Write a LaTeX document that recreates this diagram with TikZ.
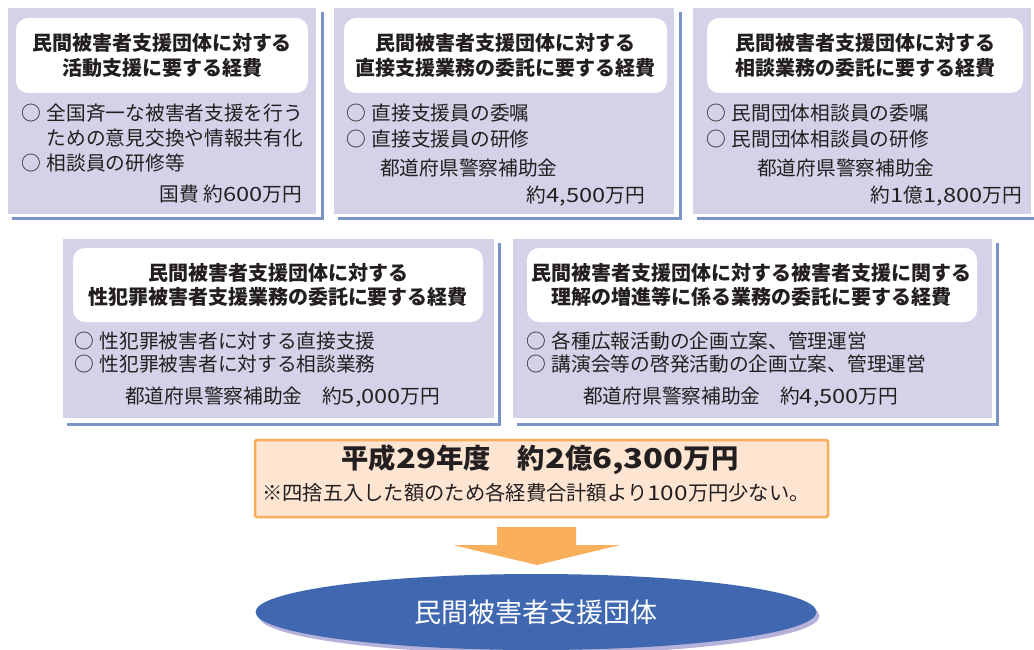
\documentclass[tikz,border=0pt]{standalone}
\usepackage{fontspec}
\setmainfont{Noto Sans CJK JP}
\usetikzlibrary{shapes.geometric}
\definecolor{boxfill}{HTML}{D4D2E8}
\definecolor{shadowblue}{HTML}{7C93CA}
\definecolor{txt}{HTML}{231F20}
\definecolor{orfill}{HTML}{FDE5D2}
\definecolor{orline}{HTML}{F8AE5C}
\definecolor{arrowc}{HTML}{F9AF5B}
\definecolor{ellfill}{HTML}{3F68B1}
\definecolor{ellshadow}{HTML}{B7B2D9}
\newcommand\mk{○\hspace{0.3em}}
\newcommand\dg[1]{{\addfontfeature{FakeStretch=1.2}#1}}
\begin{document}
\begin{tikzpicture}[x=1pt,y=-1pt,
  panel/.style={fill=boxfill, draw=none},
  shadowline/.style={draw=shadowblue, line width=3pt},
  titlebox/.style={fill=white, draw=none, rounded corners=12pt},
  ttl/.style={font=\bfseries\fontsize{20}{24.5}\selectfont, text=txt, align=center, inner sep=0pt},
  itm/.style={font=\fontsize{19.7}{26}\selectfont, text=txt, inner sep=0pt, text height=0.88em, text depth=0.12em},
  total/.style={font=\bfseries\fontsize{27.3}{32}\selectfont, text=txt, inner sep=0pt, text height=0.88em, text depth=0.12em},
  note/.style={font=\fontsize{20.3}{22}\selectfont, text=txt, inner sep=0pt, text height=0.88em, text depth=0.12em},
]
\useasboundingbox (0,0) rectangle (1034,650);
\fill[white] (0,0) rectangle (1034,650);

% ---------- shadows of panels ----------
\draw[shadowline] (12,218) -- (322,218) -- (322,12);
\draw[shadowline] (338,218) -- (680,218) -- (680,12);
\draw[shadowline] (697,218) -- (1037,218) -- (1037,12);
\draw[shadowline] (67,424) -- (499,424) -- (499,243);
\draw[shadowline] (517,424) -- (997,424) -- (997,243);

% ---------- panels ----------
\path[panel] (8,8) rectangle (316,214);
\path[panel] (334,8) rectangle (674,214);
\path[panel] (693,8) rectangle (1031,214);
\path[panel] (63,239) rectangle (494,418);
\path[panel] (513,239) rectangle (992,418);

% ---------- title boxes ----------
\path[titlebox] (16,18) rectangle (308,93);
\path[titlebox] (344,18) rectangle (667,93);
\path[titlebox] (707,18) rectangle (1023,93);
\path[titlebox] (73,248) rectangle (483,322);
\path[titlebox] (527,248) rectangle (977,322);

% ---------- panel 1 ----------
\node[ttl] (t1) at (162,55.5) {民間被害者支援団体に対する\\活動支援に要する経費};
\node[itm,anchor=west] (a1) at (21,117) {\mk 全国斉一な被害者支援を行う};
\node[itm,anchor=west] (a2) at (21,142) {\phantom{\mk}ための意見交換や情報共有化};
\node[itm,anchor=west] (a3) at (21,167) {\mk 相談員の研修等};
\node[itm,anchor=east] (a4) at (302,198) {国費 約\dg{600}万円};

% ---------- panel 2 ----------
\node[ttl] (t2) at (505.5,55.5) {民間被害者支援団体に対する\\直接支援業務の委託に要する経費};
\node[itm,anchor=west] (b1) at (346,117) {\mk 直接支援員の委嘱};
\node[itm,anchor=west] (b2) at (346,143) {\mk 直接支援員の研修};
\node[itm,anchor=west] (b3) at (380,172) {都道府県警察補助金};
\node[itm,anchor=east] (b4) at (645,199) {約\dg{4,500}万円};

% ---------- panel 3 ----------
\node[ttl] (t3) at (865,55.5) {民間被害者支援団体に対する\\相談業務の委託に要する経費};
\node[itm,anchor=west] (c1) at (706,117) {\mk 民間団体相談員の委嘱};
\node[itm,anchor=west] (c2) at (706,143) {\mk 民間団体相談員の研修};
\node[itm,anchor=west] (c3) at (757,172) {都道府県警察補助金};
\node[itm,anchor=east] (c4) at (1022,199) {約\dg{1}億\dg{1,800}万円};

% ---------- panel 4 ----------
\node[ttl] (t4) at (278,285) {民間被害者支援団体に対する\\性犯罪被害者支援業務の委託に要する経費};
\node[itm,anchor=west] (d1) at (74,345) {\mk 性犯罪被害者に対する直接支援};
\node[itm,anchor=west] (d2) at (74,368) {\mk 性犯罪被害者に対する相談業務};
\node[itm,anchor=west] (d3) at (125,400) {都道府県警察補助金　約\dg{5,000}万円};

% ---------- panel 5 ----------
\node[ttl] (t5) at (751,285) {民間被害者支援団体に対する被害者支援に関する\\理解の増進等に係る業務の委託に要する経費};
\node[itm,anchor=west] (e1) at (526,345) {\mk 各種広報活動の企画立案、管理運営};
\node[itm,anchor=west] (e2) at (526,368) {\mk 講演会等の啓発活動の企画立案、管理運営};
\node[itm,anchor=west] (e3) at (583,400) {都道府県警察補助金　約\dg{4,500}万円};

% ---------- total ----------
\draw[fill=orfill, draw=orline, line width=2.5pt, rounded corners=1.5pt] (255,440) rectangle (828,517);
\node[total] (tot) at (540,465) {平成\dg{29}年度　約\dg{2}億\dg{6,300}万円};
\node[note] (nt) at (536,497) {※四捨五入した額のため各経費合計額より\dg{100}万円少ない。};

% ---------- arrow ----------
\fill[arrowc] (497,527) -- (576,527) -- (576,545) -- (620,545) -- (537,565) -- (453,545) -- (497,545) -- cycle;

% ---------- organisation ----------
\node[ellipse, fill=ellshadow, minimum width=561pt, minimum height=76pt, inner sep=0pt] (orgsh) at (539,616) {};
\node[ellipse, fill=ellfill, minimum width=561pt, minimum height=76pt, inner sep=0pt,
      font=\fontsize{27}{30}\selectfont, text=white] (org) at (536,612) {民間被害者支援団体};
\end{tikzpicture}
\end{document}
